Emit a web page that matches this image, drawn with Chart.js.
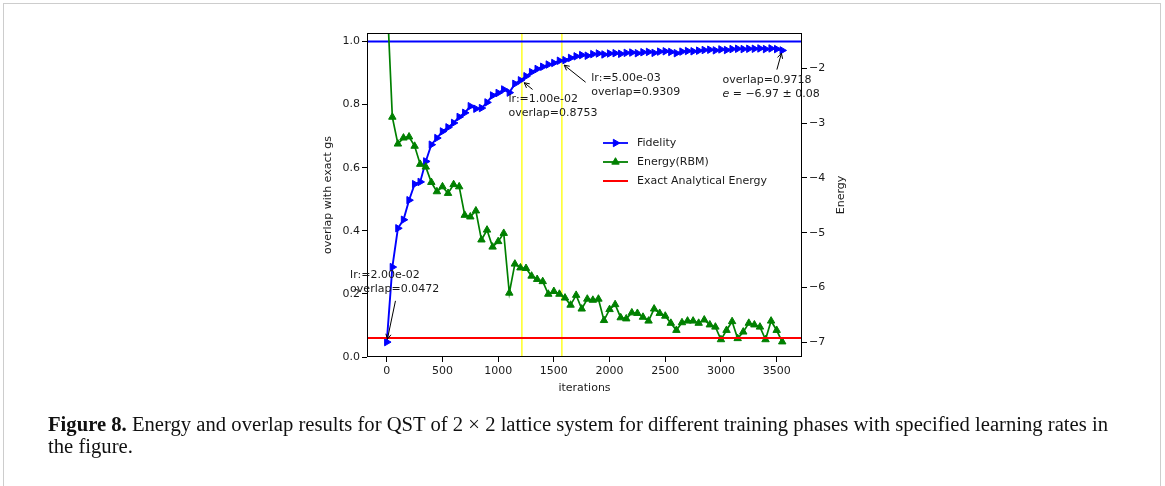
<!DOCTYPE html>
<html><head><meta charset="utf-8">
<script src="https://cdn.jsdelivr.net/npm/chart.js@4.4.1/dist/chart.umd.min.js"></script>
<style>
html,body{margin:0;padding:0;background:#fff;width:1165px;height:486px;overflow:hidden;}
#frame{position:absolute;left:3px;top:3px;width:1158px;height:600px;border:1px solid #cdcdcd;box-sizing:border-box;}
#c{position:absolute;left:0;top:0;}
#caption{position:absolute;left:48px;top:413px;font-family:"Liberation Serif",serif;font-size:20px;line-height:22px;color:#111;white-space:nowrap;transform-origin:0 0;}
</style></head><body>
<div id="frame"></div>
<canvas id="c" width="1165" height="486"></canvas>
<div id="caption"><span id="l1"><b>Figure 8.</b> Energy and overlap results for QST of 2 × 2 lattice system for different training phases with specified learning rates in</span><br>the figure.</div>
<script>
// ---------- data ----------
const iterations = [0,50,100,150,200,250,300,350,400,450,500,550,600,650,700,750,800,850,900,950,
  1000,1050,1100,1150,1200,1250,1300,1350,1400,1450,1500,1550,1600,1650,1700,1750,1800,1850,1900,1950,
  2000,2050,2100,2150,2200,2250,2300,2350,2400,2450,2500,2550,2600,2650,2700,2750,2800,2850,2900,2950,
  3000,3050,3100,3150,3200,3250,3300,3350,3400,3450,3500,3550];
const fidelity = [0.0472,0.285,0.408,0.435,0.497,0.548,0.555,0.620,0.673,0.694,0.715,0.728,0.742,0.761,0.774,0.795,0.787,0.789,0.807,0.829,
  0.837,0.848,0.838,0.866,0.877,0.890,0.903,0.913,0.920,0.927,0.932,0.939,0.941,0.948,0.953,0.957,0.955,0.960,0.962,0.959,
  0.962,0.963,0.961,0.964,0.965,0.963,0.966,0.967,0.964,0.968,0.969,0.967,0.963,0.968,0.970,0.969,0.971,0.973,0.974,0.972,
  0.975,0.973,0.976,0.977,0.976,0.977,0.977,0.978,0.976,0.978,0.976,0.9718];
const energyRBM = [-0.6,-2.89,-3.38,-3.27,-3.25,-3.42,-3.75,-3.80,-4.08,-4.25,-4.16,-4.28,-4.12,-4.16,-4.68,-4.71,-4.60,-5.13,-4.95,-5.26,
  -5.16,-5.01,-6.10,-5.57,-5.64,-5.65,-5.79,-5.85,-5.89,-6.12,-6.07,-6.12,-6.19,-6.32,-6.14,-6.39,-6.21,-6.23,-6.21,-6.60,
  -6.40,-6.31,-6.55,-6.57,-6.46,-6.47,-6.54,-6.61,-6.39,-6.47,-6.52,-6.65,-6.78,-6.64,-6.61,-6.61,-6.65,-6.59,-6.68,-6.72,
  -6.95,-6.78,-6.62,-6.93,-6.81,-6.65,-6.68,-6.72,-6.95,-6.61,-6.78,-6.99];
const exactEnergy = -6.92;
const targetOverlap = 1.0;
const lrChangeIters = [1213, 1572];
const iterTicks = [0,500,1000,1500,2000,2500,3000,3500];
const overlapTicks = [0.0,0.2,0.4,0.6,0.8,1.0];
const energyTicks = [-7,-6,-5,-4,-3,-2];
const overlapRange = [0, 1.027];
const energyRange = [-7.268, -1.356];
const legendLabels = ['Fidelity','Energy(RBM)','Exact Analytical Energy'];
const annotations = [
  {lines:['lr:=2.00e-02','overlap=0.0472'], point:[0,0.0472], textAt:[-329,0.258], tailAt:[78,0.178]},
  {lines:['lr:=1.00e-02','overlap=0.8753'], point:[1213,0.8753], textAt:[1093,0.818], tailAt:[1309,0.848]},
  {lines:['lr:=5.00e-03','overlap=0.9309'], point:[1572,0.9309], textAt:[1836,0.884], tailAt:[1785,0.871]},
  {lines:['overlap=0.9718','e = \u22126.97 \u00b1 0.08'], point:[3550,0.9718], textAt:[3013,0.876], tailAt:[3502,0.911]}
];

// ---------- chart ----------
const FONT = 'DejaVu Sans';
const TXT = '#1a1a1a';
Chart.defaults.font.family = FONT;
Chart.defaults.font.size = 11;
Chart.defaults.color = TXT;

const span = iterations[iterations.length-1] - iterations[0];
const xMin = iterations[0] - 0.05*span, xMax = iterations[iterations.length-1] + 0.05*span;
const pts = (xs, ys) => xs.map((x,i)=>({x, y: ys[i]}));

const datasets = [
  {label:'Exact Analytical Energy', data:[{x:xMin,y:exactEnergy},{x:xMax,y:exactEnergy}], yAxisID:'y2',
   borderColor:'#ff0000', borderWidth:2, pointRadius:0, order:1, clip:0},
  {label:'Energy(RBM)', data:pts(iterations, energyRBM), yAxisID:'y2', borderColor:'#008000', backgroundColor:'#008000',
   borderWidth:1.7, pointStyle:'triangle', pointRadius:4.3, pointBorderWidth:1, order:2, clip:0},
  {label:'Fidelity', data:pts(iterations, fidelity), yAxisID:'y', borderColor:'#0000ff', backgroundColor:'#0000ff',
   borderWidth:1.9, pointStyle:'triangle', pointRotation:90, pointRadius:4.3, pointBorderWidth:1, order:3, clip:0},
  {label:'target', data:[{x:xMin,y:targetOverlap},{x:xMax,y:targetOverlap}], yAxisID:'y',
   borderColor:'#0000ff', borderWidth:2, pointRadius:0, order:4, clip:0},
  ...lrChangeIters.map(it => ({label:'lr', data:[{x:it,y:overlapRange[0]},{x:it,y:overlapRange[1]}], yAxisID:'y',
   borderColor:'#ffff00', borderWidth:1.3, pointRadius:0, order:5, clip:0}))
];

function axisCommon(ticksArr){
  return {
    type:'linear',
    grid:{display:true, drawOnChartArea:false, drawTicks:true, tickLength:5, color:'#000', tickWidth:1},
    border:{display:false},
    afterBuildTicks: s => { s.ticks = ticksArr.map(v=>({value:v})); }
  };
}

const decorPlugin = {
  id:'decor',
  afterDraw(chart){
    const {ctx, chartArea:a, scales} = chart;
    const X = scales.x, Y = scales.y;
    ctx.save();
    ctx.strokeStyle = '#000'; ctx.lineWidth = 1;
    ctx.strokeRect(a.left+0.5, a.top+0.5, a.right-a.left-1, a.bottom-a.top-1);
    ctx.fillStyle = TXT; ctx.font = '11px "'+FONT+'"';
    ctx.textAlign = 'center'; ctx.textBaseline = 'middle';
    ctx.fillText('iterations', (a.left+a.right)/2, a.bottom+31);
    ctx.save(); ctx.translate(a.left-39, (a.top+a.bottom)/2); ctx.rotate(-Math.PI/2);
    ctx.fillText('overlap with exact gs', 0, 0); ctx.restore();
    ctx.save(); ctx.translate(a.right+39, (a.top+a.bottom)/2); ctx.rotate(-Math.PI/2);
    ctx.fillText('Energy', 0, 0); ctx.restore();
    const lx = a.left+236, ly = a.top+110, dy = 19;
    const styles = [{c:'#0000ff', m:'right'}, {c:'#008000', m:'up'}, {c:'#ff0000', m:null}];
    ctx.textAlign='left';
    styles.forEach((st,i)=>{
      const y = ly + i*dy;
      ctx.strokeStyle = st.c; ctx.lineWidth = i===2?2:1.8;
      ctx.beginPath(); ctx.moveTo(lx, y); ctx.lineTo(lx+25, y); ctx.stroke();
      if (st.m) drawTri(ctx, lx+12.5, y, 4.3, st.m==='right'?Math.PI/2:0, st.c);
      ctx.fillStyle = TXT; ctx.fillText(legendLabels[i], lx+34, y);
    });
    annotations.forEach(an=>{
      const tx = X.getPixelForValue(an.textAt[0]), ty = Y.getPixelForValue(an.textAt[1]);
      ctx.fillStyle = TXT; ctx.textAlign='left'; ctx.textBaseline='middle';
      an.lines.forEach((ln,k)=>{
        const yy = ty + k*14;
        if (ln.startsWith('e = ')) {
          ctx.font = 'italic 11px "'+FONT+'"';
          ctx.fillText('e', tx, yy);
          const w = ctx.measureText('e').width;
          ctx.font = '11px "'+FONT+'"';
          ctx.fillText(ln.slice(1), tx+w, yy);
        } else {
          ctx.font = '11px "'+FONT+'"';
          ctx.fillText(ln, tx, yy);
        }
      });
      const px = X.getPixelForValue(an.point[0]), py = Y.getPixelForValue(an.point[1]);
      const sx = X.getPixelForValue(an.tailAt[0]), sy = Y.getPixelForValue(an.tailAt[1]);
      const ang = Math.atan2(py-sy, px-sx);
      const ex = px - 3*Math.cos(ang), ey = py - 3*Math.sin(ang);
      ctx.strokeStyle = '#000'; ctx.lineWidth = 1;
      ctx.beginPath(); ctx.moveTo(sx, sy); ctx.lineTo(ex, ey); ctx.stroke();
      const hl = 5, hw = 2.6;
      ctx.beginPath();
      ctx.moveTo(ex - hl*Math.cos(ang) + hw*Math.sin(ang), ey - hl*Math.sin(ang) - hw*Math.cos(ang));
      ctx.lineTo(ex, ey);
      ctx.lineTo(ex - hl*Math.cos(ang) - hw*Math.sin(ang), ey - hl*Math.sin(ang) + hw*Math.cos(ang));
      ctx.stroke();
    });
    ctx.restore();
  }
};
function drawTri(ctx, x, y, r, rot, color){
  ctx.save(); ctx.fillStyle = color; ctx.strokeStyle = color; ctx.lineWidth = 1;
  ctx.beginPath();
  for (let k=0;k<3;k++){
    const ang = rot + k*2*Math.PI/3;
    const px = x + Math.sin(ang)*r, py = y - Math.cos(ang)*r;
    if (k===0) ctx.moveTo(px,py); else ctx.lineTo(px,py);
  }
  ctx.closePath(); ctx.fill(); ctx.stroke(); ctx.restore();
}

new Chart(document.getElementById('c'), {
  type:'line',
  data:{datasets},
  options:{
    responsive:false, animation:false, devicePixelRatio:1,
    layout:{padding:{top:33, left:0, right:0, bottom:0}},
    plugins:{legend:{display:false}, tooltip:{enabled:false}},
    elements:{line:{tension:0}},
    scales:{
      x: Object.assign(axisCommon(iterTicks), {position:'bottom', min:xMin, max:xMax,
          ticks:{padding:3, autoSkip:false, maxRotation:0, color:TXT, callback:v=>String(v)},
          afterFit:s=>{ s.height = 486-357; }}),
      y: Object.assign(axisCommon(overlapTicks), {position:'left', min:overlapRange[0], max:overlapRange[1],
          ticks:{padding:2, color:TXT, callback:v=>v.toFixed(1)},
          afterFit:s=>{ s.width = 367; }}),
      y2: Object.assign(axisCommon(energyTicks), {position:'right', min:energyRange[0], max:energyRange[1],
          ticks:{padding:2, color:TXT, callback:v=>String(v).replace('-','\u2212')},
          afterFit:s=>{ s.width = 1165-802; }})
    }
  },
  plugins:[decorPlugin]
});

(function(){
  const l1 = document.getElementById('l1');
  const w = l1.getBoundingClientRect().width;
  const cap = document.getElementById('caption');
  cap.style.transform = 'scaleX(' + (1060/w) + ')';
})();
</script>
</body></html>
